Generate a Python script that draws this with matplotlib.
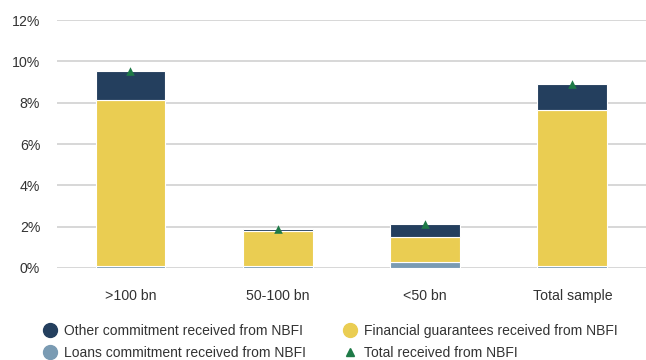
import matplotlib
matplotlib.use("Agg")
import matplotlib.pyplot as plt
from matplotlib.lines import Line2D
import numpy as np

categories = [">100 bn", "50-100 bn", "<50 bn", "Total sample"]
loans = [0.10, 0.10, 0.30, 0.10]
guarantees = [8.05, 1.69, 1.18, 7.57]
other = [1.38, 0.07, 0.65, 1.23]
yticks = [0, 2, 4, 6, 8, 10, 12]

c_other = "#243f5e"
c_guar = "#eacd52"
c_loans = "#7a9bb3"
c_total = "#1e7a47"

plt.rcParams["font.family"] = ["Liberation Sans", "DejaVu Sans"]

fig = plt.figure(figsize=(6.46, 3.6), dpi=100)
ax = fig.add_axes([0.088, 0.256, 0.912, 0.688])

x = np.arange(len(categories))
w = 0.475
loans_a = np.array(loans)
guar_a = np.array(guarantees)
other_a = np.array(other)
total = loans_a + guar_a + other_a

ax.bar(x, loans_a, w, color=c_loans, edgecolor="white", linewidth=0.8, zorder=2)
ax.bar(x, guar_a, w, bottom=loans_a, color=c_guar, edgecolor="white", linewidth=0.8, zorder=2)
ax.bar(x, other_a, w, bottom=loans_a + guar_a, color=c_other, edgecolor="white", linewidth=0.8, zorder=2)
ax.scatter(x, total, marker="^", s=38, color=c_total, zorder=3, linewidths=0)

ax.set_xlim(-0.5, len(categories) - 0.5)
ax.set_ylim(0, 12)
ax.set_yticks(yticks)
ax.set_yticklabels([f"{v}%" for v in yticks])
ax.set_xticks(x)
ax.set_xticklabels(categories)
ax.grid(axis="y", color="#d4d4d4", linewidth=1.3, zorder=0)
ax.set_axisbelow(True)
for s in ax.spines.values():
    s.set_visible(False)
ax.tick_params(axis="both", length=0, labelsize=10.2, colors="#333333")
ax.tick_params(axis="x", pad=15)
ax.tick_params(axis="y", pad=12)

handles = [
    Line2D([], [], marker="o", linestyle="none", markersize=10, color=c_other),
    Line2D([], [], marker="o", linestyle="none", markersize=10, color=c_loans),
    Line2D([], [], marker="o", linestyle="none", markersize=10, color=c_guar),
    Line2D([], [], marker="^", linestyle="none", markersize=6, color=c_total),
]
labels = [
    "Other commitment received from NBFI",
    "Loans commitment received from NBFI",
    "Financial guarantees received from NBFI",
    "Total received from NBFI",
]
fig.legend(handles, labels, ncol=2, loc="lower left", bbox_to_anchor=(0.045, -0.034),
           frameon=False, fontsize=10, labelcolor="#333333", handletextpad=0.4,
           columnspacing=2.6, labelspacing=0.55, handlelength=1.2)

fig.savefig("out.png", dpi=100)
